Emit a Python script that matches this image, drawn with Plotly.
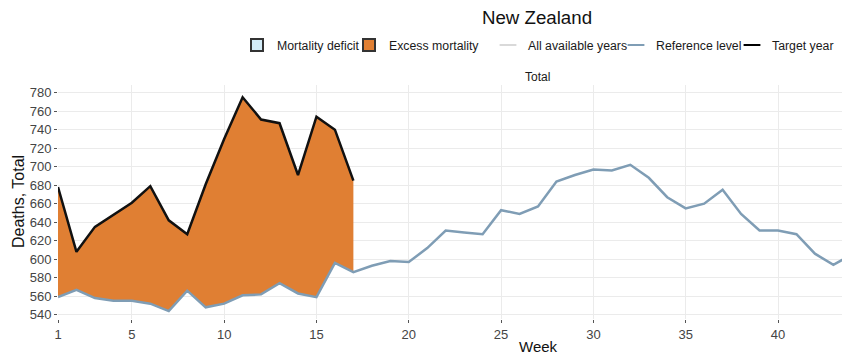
import plotly.graph_objects as go

weeks = list(range(1, 45))
reference_level = [559, 567, 558, 555, 555, 552, 544, 566, 548, 552,
                   561, 562, 574, 563, 559, 596, 586, 593, 598, 597,
                   612, 631, 629, 627, 653, 649, 657, 684, 691, 697,
                   696, 702, 688, 667, 655, 660, 675, 649, 631, 631,
                   627, 606, 594, 605]
target_weeks = list(range(1, 18))
target_year = [678, 608, 635, 648, 661, 679, 642, 627, 681, 730,
               775, 751, 747, 691, 754, 740, 685]

x_ticks = [1, 5, 10, 15, 20, 25, 30, 35, 40]
y_ticks = [540, 560, 580, 600, 620, 640, 660, 680, 700, 720, 740, 760, 780]

ORANGE = "#E07F33"
DEFICIT = "#D3ECF8"
REF_COL = "#7F9DB5"
ALL_COL = "#D9D9D9"
FONT = "Liberation Sans, Arial, sans-serif"

# the page body adds an 8px offset; figure coords = screen coords - 8
OFF = 8
W, H = 842, 353
L, R, T, B = 50, 0, 77, 42
pw, ph = W - L - R, H - T - B


def sx(p):  # screen px -> paper x
    return (p - OFF - L) / pw


def sy(p):  # screen px -> paper y
    return (H - B - (p - OFF)) / ph


def cx(p):  # screen px -> container x
    return (p - OFF) / W


def cy(p):  # screen px -> container y
    return 1 - (p - OFF) / H


fig = go.Figure()

# fill base (reference over target weeks)
fig.add_trace(go.Scatter(x=target_weeks, y=reference_level[:len(target_weeks)],
                         mode="lines", line=dict(color=REF_COL, width=0),
                         showlegend=False, hoverinfo="skip"))
fig.add_trace(go.Scatter(x=target_weeks, y=target_year, mode="lines",
                         line=dict(color=ORANGE, width=0), fill="tonexty",
                         fillcolor=ORANGE, showlegend=False, hoverinfo="skip"))
# reference line
fig.add_trace(go.Scatter(x=weeks, y=reference_level, mode="lines",
                         line=dict(color=REF_COL, width=2.5), showlegend=False))
# target line
fig.add_trace(go.Scatter(x=target_weeks, y=target_year, mode="lines",
                         line=dict(color="#111111", width=2.5), showlegend=False))


def leg_box(name, color, legend):
    fig.add_trace(go.Scatter(x=[None], y=[None], mode="markers", name=name,
                             marker=dict(symbol="square", size=14, color=color,
                                         line=dict(color="#333333", width=1.2)),
                             legend=legend, showlegend=True))


def leg_line(name, color, legend):
    fig.add_trace(go.Scatter(x=[None], y=[None], mode="markers", name=name,
                             marker=dict(symbol="line-ew-open", size=12, color=color,
                                         line=dict(color=color, width=3)),
                             legend=legend, showlegend=True))


leg_box("Mortality deficit", DEFICIT, "legend")
leg_box("Excess mortality", ORANGE, "legend2")
leg_line("All available years", ALL_COL, "legend3")
leg_line("Reference level", REF_COL, "legend4")
leg_line("Target year", "#000000", "legend5")

# text start positions (screen px) of each legend entry
legend_text_x = [275, 387, 526, 654, 770]


def legend_cfg(text_x):
    return dict(orientation="h", yanchor="middle", xanchor="left",
                x=cx(text_x - 38), y=cy(45), xref="container", yref="container",
                font=dict(family=FONT, size=12.3, color="#1a1a1a"),
                bgcolor="rgba(0,0,0,0)", itemsizing="constant")


fig.update_layout(
    width=W, height=H,
    margin=dict(l=L, r=R, t=T, b=B, autoexpand=False),
    paper_bgcolor="white", plot_bgcolor="white",
    font=dict(family=FONT, color="#1a1a1a"),
    title=dict(text="New Zealand", x=cx(537), xanchor="center",
               y=cy(17), yanchor="middle", yref="container", xref="container",
               font=dict(family=FONT, size=18.7, color="#111111")),
    legend=legend_cfg(legend_text_x[0]),
    legend2=legend_cfg(legend_text_x[1]),
    legend3=legend_cfg(legend_text_x[2]),
    legend4=legend_cfg(legend_text_x[3]),
    legend5=legend_cfg(legend_text_x[4]),
    xaxis=dict(range=[1, 43.9], tickvals=x_ticks, ticktext=[str(v) for v in x_ticks],
               showgrid=True, gridcolor="#EBEBEB", gridwidth=1, zeroline=False,
               ticks="outside", ticklen=3, tickcolor="#555555",
               tickfont=dict(family=FONT, size=13, color="#444444"),
               showline=False),
    yaxis=dict(range=[535.4, 788.3], tickvals=y_ticks, ticktext=[str(v) for v in y_ticks],
               showgrid=True, gridcolor="#EBEBEB", gridwidth=1, zeroline=False,
               ticks="outside", ticklen=3, tickcolor="#555555",
               tickfont=dict(family=FONT, size=13, color="#444444"),
               showline=False),
    showlegend=True,
    annotations=[
        dict(text="Total", x=sx(537), y=sy(77), xref="paper", yref="paper",
             showarrow=False, font=dict(family=FONT, size=12, color="#1a1a1a"),
             xanchor="center", yanchor="middle"),
        dict(text="Week", x=sx(538), y=sy(346), xref="paper", yref="paper",
             showarrow=False, font=dict(family=FONT, size=15, color="#111111"),
             xanchor="center", yanchor="middle"),
        dict(text="Deaths, Total", x=sx(18), y=sy(202), xref="paper", yref="paper",
             showarrow=False, textangle=-90,
             font=dict(family=FONT, size=16, color="#111111"),
             xanchor="center", yanchor="middle"),
    ],
)

fig.write_html("out.html")
